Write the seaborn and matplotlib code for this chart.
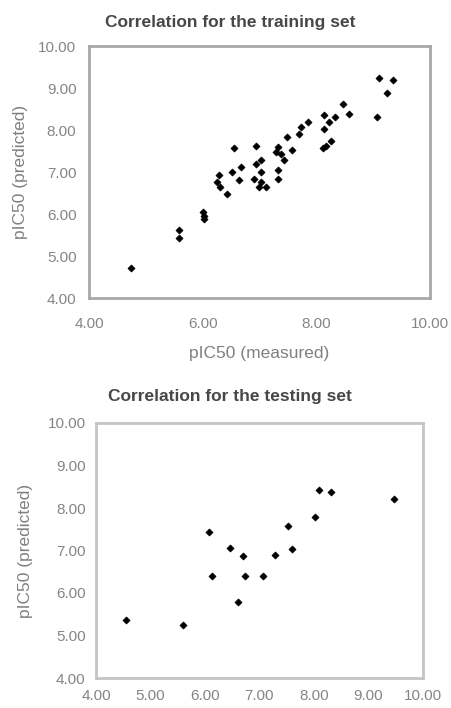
import matplotlib
matplotlib.use("Agg")
import matplotlib.pyplot as plt
import seaborn as sns
import pandas as pd
from matplotlib.ticker import FormatStrFormatter

# ---- data ----
train_measured = [4.74, 5.59, 5.59, 6.00, 6.02, 6.03, 6.28, 6.25, 6.30, 6.43, 6.55, 6.52,
                  6.67, 6.64, 6.93, 7.02, 6.93, 7.02, 6.90, 7.02, 6.99, 7.11, 7.32, 7.29,
                  7.37, 7.43, 7.58, 7.32, 7.32, 7.49, 7.70, 7.73, 7.85, 8.11, 8.17, 8.26,
                  8.14, 8.14, 8.23, 8.32, 8.58, 8.47, 9.06, 9.10, 9.35, 9.25]
train_predicted = [4.71, 5.63, 5.44, 6.05, 5.95, 5.88, 6.92, 6.76, 6.64, 6.48, 7.56, 7.00,
                   7.12, 6.80, 7.63, 7.28, 7.20, 7.00, 6.84, 6.76, 6.64, 6.64, 7.60, 7.48,
                   7.44, 7.28, 7.52, 7.04, 6.84, 7.83, 7.91, 8.07, 8.19, 7.56, 7.63, 7.75,
                   8.03, 8.35, 8.19, 8.31, 8.39, 8.63, 8.31, 9.24, 9.20, 8.88]
test_measured = [4.55, 5.59, 6.08, 6.12, 6.45, 6.69, 6.60, 6.74, 7.06, 7.29, 7.52, 7.59,
                 8.02, 8.10, 8.32, 9.46]
test_predicted = [5.36, 5.24, 7.44, 6.39, 7.07, 6.86, 5.78, 6.39, 6.41, 6.89, 7.57, 7.04,
                  7.79, 8.43, 8.38, 8.21]

train_xticks = [4, 6, 8, 10]
test_xticks = [4, 5, 6, 7, 8, 9, 10]
yticks = [4, 5, 6, 7, 8, 9, 10]

train_title = "Correlation for the training set"
test_title = "Correlation for the testing set"
xlabel = "pIC50 (measured)"
ylabel = "pIC50 (predicted)"

sns.set_style("white")
plt.rcParams['font.family'] = ['Liberation Sans', 'DejaVu Sans']

fig = plt.figure(figsize=(4.52, 7.08), dpi=100)

W, H = 452, 708
def box(l, t, r, b):
    return [l / W, 1 - b / H, (r - l) / W, (b - t) / H]

ax1 = fig.add_axes(box(89, 46, 430, 298))
ax2 = fig.add_axes(box(96, 423, 423, 678))

df1 = pd.DataFrame({"m": train_measured, "p": train_predicted})
df2 = pd.DataFrame({"m": test_measured, "p": test_predicted})

for ax, df, xt, fc, xpad, ypad in [(ax1, df1, train_xticks, "#a8a8a8", 11, 6),
                                   (ax2, df2, test_xticks, "#c4c4c4", 5, 4.5)]:
    sns.scatterplot(data=df, x="m", y="p", ax=ax, marker="D", s=13,
                    color="black", edgecolor="black", linewidth=0.5)
    ax.set_xlim(4, 10)
    ax.set_ylim(4, 10)
    ax.set_xticks(xt)
    ax.set_yticks(yticks)
    ax.xaxis.set_major_formatter(FormatStrFormatter("%.2f"))
    ax.yaxis.set_major_formatter(FormatStrFormatter("%.2f"))
    ax.tick_params(axis="both", direction="out", length=3, width=1,
                   color="#c8c8c8", labelcolor="#858585", labelsize=11)
    ax.tick_params(axis="x", pad=xpad)
    ax.tick_params(axis="y", pad=ypad)
    for s in ax.spines.values():
        s.set_color(fc)
        s.set_linewidth(2.0)
    ax.set_xlabel("")
    ax.set_ylabel("")

ax1.set_xlabel(xlabel, fontsize=12.5, color="#808080")
ax1.xaxis.set_label_coords(0.5, -0.19)
ax1.set_ylabel(ylabel, fontsize=12.5, color="#808080")
ax1.yaxis.set_label_coords(-0.18, 0.5)
ax2.set_ylabel(ylabel, fontsize=12.5, color="#808080")
ax2.yaxis.set_label_coords(-0.192, 0.5)

fig.text(230 / W, 1 - 23 / H, train_title, ha="center", va="center",
         fontsize=12.5, fontweight="bold", color="#474747")
fig.text(230 / W, 1 - 397 / H, test_title, ha="center", va="center",
         fontsize=12.5, fontweight="bold", color="#474747")

fig.savefig("out.png", dpi=100, facecolor="white")
